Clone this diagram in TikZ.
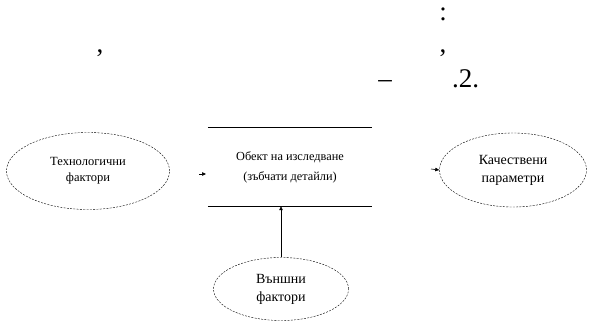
\documentclass[tikz,border=0pt]{standalone}
\usepackage{fontspec}
\setmainfont{Liberation Serif}
\usetikzlibrary{shapes.geometric,arrows.meta}
\begin{document}
\begin{tikzpicture}[x=1pt,y=-1pt,
  oval/.style={ellipse,draw,thin,dash pattern=on 2pt off 1.3pt,align=center,inner sep=0pt},
  objbox/.style={rectangle,align=center,font=\fontsize{12.3}{20}\selectfont,inner sep=0pt},
  edge/.style={line width=0.8pt},
  tip/.style={-{Triangle[length=4pt,width=3.5pt]},line width=0.6pt},
  frag/.style={font=\fontsize{27}{30}\selectfont,inner sep=0pt,anchor=base}]
\useasboundingbox (0,0) rectangle (589,326);
% top text fragments
\node[frag] (t1) at (443,21) {:};
\node[frag] (t2) at (100,53) {,};
\node[frag] (t3) at (443,53) {,};
\node[frag] (t4) at (385,88) {–};
\node[frag,anchor=base west] (t5) at (452,88) {.2.};
% nodes
\node[oval,font=\fontsize{12.5}{16}\selectfont,minimum width=163pt,minimum height=77pt] (tech) at (88,171) {Технологични\\фактори};
\node[objbox,minimum width=164pt,minimum height=78pt] (obj) at (290,167) {Обект на изследване\\(зъбчати детайли)};
\draw[edge] (obj.north west) -- (obj.north east);
\draw[edge] (obj.south west) -- (obj.south east);
\node[oval,font=\fontsize{14}{18}\selectfont,minimum width=147pt,minimum height=74pt] (qual) at (513,170) {Качествени\\параметри};
\node[oval,font=\fontsize{14}{18}\selectfont,minimum width=135pt,minimum height=63pt] (ext) at (281,289) {Външни\\фактори};
% connectors
\coordinate (la) at (199,174);
\coordinate (lb) at (206,174);
\draw[tip] (la) -- (lb);
\coordinate (ra) at (431,169);
\draw[tip] (ra) -- (qual.west);
\draw[tip] (ext.north) -- (obj.south -| ext.north);
\end{tikzpicture}
\end{document}
